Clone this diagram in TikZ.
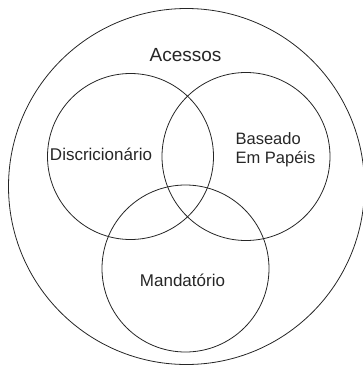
\documentclass[tikz,border=0pt]{standalone}
\usepackage{fontspec}
\setmainfont{Liberation Sans}
\usetikzlibrary{calc}

\tikzset{
  setline/.style={line width=0.8pt, black!85},
  setlabel/.style={inner sep=0pt, text=black!85, font=\fontsize{17}{19}\selectfont}
}

\begin{document}
\begin{tikzpicture}[x=1pt,y=-1pt]
		\useasboundingbox (0,0) rectangle (363,365);
		%\draw[help lines] (0,0) grid[step=20] (363,365);

		\coordinate (acessos) at (186.5,186.5);
		\coordinate (disc) at (130.5,156.5);
		\coordinate (papeis) at (246,156.5);
		\coordinate (mand) at (185.5,268.5);

		\draw[setline] (acessos) circle (178pt);
		\draw[setline] (disc) circle (83pt);
		\draw[setline] (papeis) circle (84pt);
		\draw[setline] (mand) circle (83.5pt);

		\node[setlabel, font=\fontsize{19}{22}\selectfont] (tacessos) at (185.5,55.5) {Acessos};
		\node[setlabel] (tdisc) at (101,154) {Discricionário};
		\node[setlabel, align=left, font=\fontsize{16.5}{19}\selectfont] (tpapeis) at (275.5,150) {Baseado\\Em Papéis};
		\node[setlabel] (tmand) at (182.5,280) {Mandatório};
	\end{tikzpicture}
\end{document}
